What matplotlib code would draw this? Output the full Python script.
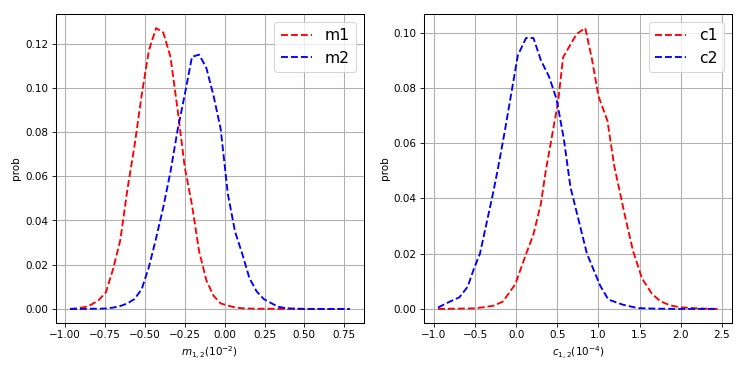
import numpy as np
import matplotlib.pyplot as plt

# left panel: m1, m2 on a shared grid
x_m = [-0.970, -0.925, -0.880, -0.835, -0.790, -0.745, -0.700, -0.655, -0.610, -0.565,
       -0.520, -0.475, -0.430, -0.385, -0.340, -0.295, -0.250, -0.205, -0.160, -0.115,
       -0.070, -0.025, 0.020, 0.065, 0.110, 0.155, 0.200, 0.245, 0.290, 0.335,
       0.380, 0.425, 0.470, 0.515, 0.560, 0.605, 0.650, 0.695, 0.740, 0.785]
m1 = [0.0, 0.0003, 0.0008, 0.002, 0.004, 0.0075, 0.018, 0.031, 0.054, 0.074,
      0.097, 0.117, 0.127, 0.125, 0.114, 0.090, 0.064, 0.047, 0.026, 0.013,
      0.006, 0.0025, 0.0015, 0.0007, 0.0003, 0.0002, 0.0001, 0.0001, 0.0001, 0.0,
      0.0, 0.0, 0.0, 0.0, 0.0, 0.0, 0.0, 0.0, 0.0, 0.0]
m2 = [0.0, 0.0, 0.0, 0.0001, 0.0001, 0.0002, 0.0006, 0.0013, 0.0025, 0.0045,
      0.009, 0.019, 0.032, 0.046, 0.062, 0.081, 0.097, 0.114, 0.115, 0.109,
      0.0965, 0.0814, 0.052, 0.035, 0.025, 0.014, 0.008, 0.0045, 0.0027, 0.001,
      0.0004, 0.0002, 0.0001, 0.0, 0.0, 0.0, 0.0, 0.0, 0.0, 0.0]

# right panel: c1, c2
x_c1 = [-0.95, -0.75, -0.52, -0.40, -0.27, -0.16, -0.01, 0.11, 0.21, 0.30,
        0.36, 0.45, 0.51, 0.57, 0.735, 0.84, 0.92, 1.00, 1.11, 1.19,
        1.32, 1.42, 1.53, 1.65, 1.75, 1.87, 1.99, 2.15, 2.30, 2.45]
c1 = [0.0, 0.0001, 0.0002, 0.0006, 0.0012, 0.0027, 0.009, 0.019, 0.027, 0.038,
      0.050, 0.065, 0.075, 0.091, 0.0995, 0.1016, 0.0905, 0.077, 0.068, 0.052,
      0.034, 0.021, 0.011, 0.0055, 0.0028, 0.0013, 0.0006, 0.0003, 0.0001, 0.0]
x_c2 = [-0.95, -0.85, -0.76, -0.69, -0.59, -0.52, -0.44, -0.36, -0.28, -0.22,
        -0.14, 0.02, 0.12, 0.21, 0.30, 0.40, 0.49, 0.58, 0.63, 0.66,
        0.86, 1.02, 1.12, 1.30, 1.48, 1.70, 2.00, 2.45]
c2 = [0.0005, 0.002, 0.0033, 0.0042, 0.008, 0.014, 0.020, 0.031, 0.042, 0.051,
      0.064, 0.0917, 0.098, 0.098, 0.090, 0.084, 0.076, 0.0614, 0.0505, 0.044,
      0.020, 0.0085, 0.0034, 0.0015, 0.0003, 0.0001, 0.0, 0.0]

plt.rcParams['grid.linewidth'] = 1.0
plt.rcParams['axes.linewidth'] = 1.0

fig = plt.figure(figsize=(9.96, 4.987), dpi=75)
ax1 = fig.add_axes([0.075, 0.1364, 0.412, 0.826])
ax2 = fig.add_axes([0.5676, 0.1364, 0.412, 0.826])

ax1.plot(x_m, m1, 'r--', lw=1.8, label='m1')
ax1.plot(x_m, m2, 'b--', lw=1.8, label='m2')
ax1.set_xlabel('$m_{1,2}(10^{-2})$')
ax1.set_ylabel('prob')
ax1.grid(True)
ax1.legend(loc='upper right', fontsize=15)

ax2.plot(x_c1, c1, 'r--', lw=1.8, label='c1')
ax2.plot(x_c2, c2, 'b--', lw=1.8, label='c2')
ax2.set_xlabel('$c_{1,2}(10^{-4})$')
ax2.set_ylabel('prob')
ax2.grid(True)
ax2.legend(loc='upper right', fontsize=15)

fig.savefig('out.png', dpi=75)
